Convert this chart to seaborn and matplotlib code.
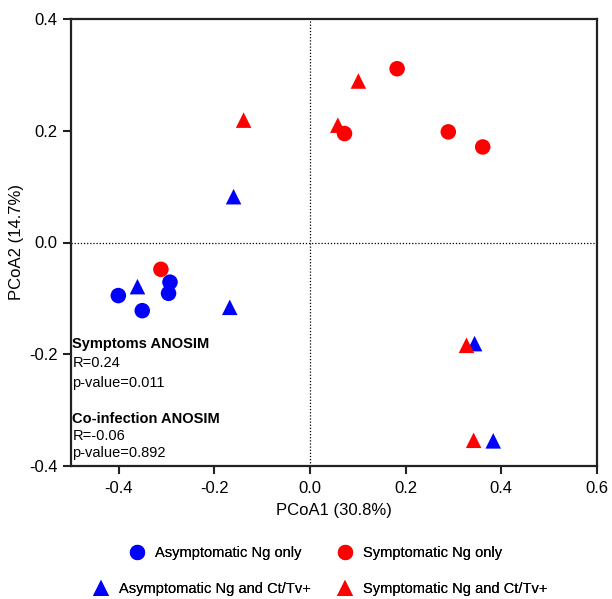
import matplotlib
matplotlib.use("Agg")
import matplotlib.pyplot as plt
from matplotlib.lines import Line2D
import seaborn as sns
import pandas as pd

# ---- data ----
groups = ["Asymptomatic Ng only", "Symptomatic Ng only",
          "Asymptomatic Ng and Ct/Tv+", "Symptomatic Ng and Ct/Tv+"]

asym_only_x = [-0.401, -0.351, -0.293, -0.296]
asym_only_y = [-0.095, -0.122, -0.071, -0.091]

sym_only_x = [-0.312, 0.182, 0.072, 0.289, 0.361]
sym_only_y = [-0.048, 0.311, 0.195, 0.198, 0.171]

asym_co_x = [-0.361, -0.168, -0.160, 0.344, 0.383]
asym_co_y = [-0.079, -0.116, 0.082, -0.181, -0.355]

sym_co_x = [-0.139, 0.058, 0.101, 0.327, 0.342]
sym_co_y = [0.219, 0.210, 0.289, -0.184, -0.354]

x_ticks = [-0.4, -0.2, 0.0, 0.2, 0.4, 0.6]
y_ticks = [-0.4, -0.2, 0.0, 0.2, 0.4]

ann1_title = "Symptoms ANOSIM"
ann1_lines = ["R=0.24", "p-value=0.011"]
ann2_title = "Co-infection ANOSIM"
ann2_lines = ["R=-0.06", "p-value=0.892"]

# ---- build table ----
rows = []
for g, xs, ys in zip(groups,
                     [asym_only_x, sym_only_x, asym_co_x, sym_co_x],
                     [asym_only_y, sym_only_y, asym_co_y, sym_co_y]):
    for x, y in zip(xs, ys):
        rows.append({"PCoA1": x, "PCoA2": y, "group": g})
df = pd.DataFrame(rows)

palette = {groups[0]: "#0000ff", groups[1]: "#ff0000",
           groups[2]: "#0000ff", groups[3]: "#ff0000"}
markers = {groups[0]: "o", groups[1]: "o", groups[2]: "^", groups[3]: "^"}

sns.set_style("white")
plt.rcParams["font.family"] = ["Liberation Sans", "DejaVu Sans"]
plt.rcParams["axes.unicode_minus"] = False
plt.rcParams["text.color"] = "black"
plt.rcParams["axes.labelcolor"] = "black"
plt.rcParams["xtick.color"] = "black"
plt.rcParams["ytick.color"] = "black"

fig = plt.figure(figsize=(6.12, 5.99), dpi=100)
ax = fig.add_axes([71 / 612, (599 - 466) / 599, (597 - 71) / 612, (466 - 19) / 599])

ax.axhline(0, color="black", linestyle=(0, (1, 1.5)), linewidth=0.9, zorder=1)
ax.axvline(0, color="black", linestyle=(0, (1, 1.5)), linewidth=0.9, zorder=1)

sns.scatterplot(data=df, x="PCoA1", y="PCoA2", hue="group", style="group",
                palette=palette, markers=markers, s=125, linewidth=0,
                legend=False, ax=ax, zorder=3)

ax.set_xlim(-0.5, 0.6)
ax.set_ylim(-0.4, 0.4)
ax.set_xticks(x_ticks)
ax.set_yticks(y_ticks)
ax.set_xticklabels([f"{t:.1f}" for t in x_ticks])
ax.set_yticklabels([f"{t:.1f}" for t in y_ticks])
ax.tick_params(axis="both", direction="out", length=6, width=1.5,
               labelsize=12, color="#222222", bottom=True, left=True)
ax.tick_params(axis="x", pad=5)
ax.set_xlabel("PCoA1 (30.8%)", fontsize=12, labelpad=5)
ax.set_ylabel("PCoA2 (14.7%)", fontsize=12, labelpad=4)
for side in ["left", "bottom", "top", "right"]:
    ax.spines[side].set_visible(True)
    ax.spines[side].set_color("#222222")
    ax.spines[side].set_linewidth(1.6)

# annotations
tx = -0.497
ax.text(tx, -0.182, ann1_title, fontsize=10.5, fontweight="bold", va="center", ha="left")
ax.text(tx, -0.216, ann1_lines[0], fontsize=10.5, va="center", ha="left")
ax.text(tx, -0.251, ann1_lines[1], fontsize=10.5, va="center", ha="left")
ax.text(tx, -0.315, ann2_title, fontsize=10.5, fontweight="bold", va="center", ha="left")
ax.text(tx, -0.347, ann2_lines[0], fontsize=10.5, va="center", ha="left")
ax.text(tx, -0.377, ann2_lines[1], fontsize=10.5, va="center", ha="left")

# legend: one entry per legend, placed like the original
fs = 10.5
fs_px = fs * 100 / 72
hl = 1.2
hp = 0.63
legend_pos = {groups[0]: (137, 553), groups[1]: (345, 553),
              groups[2]: (101, 589), groups[3]: (345, 589)}
for g in groups:
    mx, my = legend_pos[g]
    h = Line2D([], [], marker=markers[g], color=palette[g], linestyle="",
               markersize=11, markeredgewidth=0)
    left_px = mx - hl * fs_px / 2
    leg = fig.legend([h], [g], loc="center left",
                     bbox_to_anchor=(left_px / 612, 1 - my / 599),
                     frameon=False, fontsize=fs, borderpad=0, borderaxespad=0,
                     handlelength=hl, handletextpad=hp)
    fig.add_artist(leg)

fig.savefig("out.png", dpi=100)
